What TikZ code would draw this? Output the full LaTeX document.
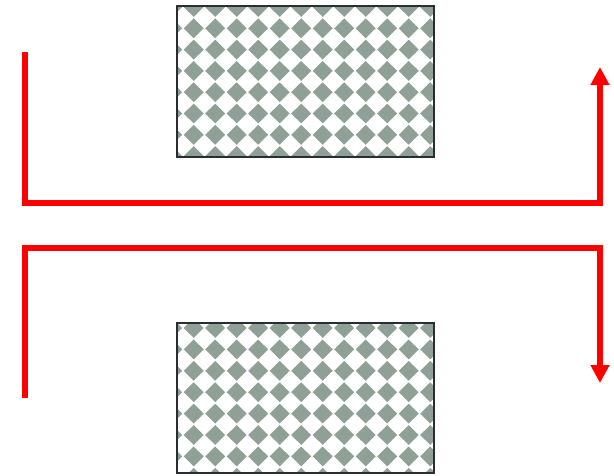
\documentclass[tikz,border=0pt]{standalone}
\usepackage{tikz}
\usepackage{xcolor}
\usetikzlibrary{arrows.meta, calc}
\definecolor{tileGray}{RGB}{143,161,151}
\definecolor{frameDark}{RGB}{42,46,52}
\definecolor{flowRed}{RGB}{255,0,0}

\begin{document}
\begin{tikzpicture}[x=1pt, y=-1pt,
  flow/.style={draw=flowRed, line width=5.5pt, line join=miter, -{Triangle[length=18pt, width=18pt]}},
  frame/.style={draw=frameDark, line width=1.8pt}]
\useasboundingbox (0,0) rectangle (614,475);
% --- Upper block ---
\coordinate (upA) at (177,6);
\coordinate (upB) at (434,157);
\begin{scope}
\clip (upA) rectangle (upB);
\foreach \i in {-1,...,12} {
  \foreach \j in {-1,...,7} {
    \fill[tileGray] ($(193.7,28.3)+(21.5*\i,21.3*\j)$) +(-10,0) -- +(0,-9.9) -- +(10,0) -- +(0,9.9) -- cycle;
  }
}
\end{scope}
\draw[frame] (upA) rectangle (upB);
% --- Lower block ---
\coordinate (loA) at (177,323);
\coordinate (loB) at (434,473);
\begin{scope}
\clip (loA) rectangle (loB);
\foreach \i in {-1,...,12} {
  \foreach \j in {-1,...,7} {
    \fill[tileGray] ($(193.7,328)+(21.5*\i,21.4*\j)$) +(-10,0) -- +(0,-9.9) -- +(10,0) -- +(0,9.9) -- cycle;
  }
}
\end{scope}
\draw[frame] (loA) rectangle (loB);
% --- Red paths ---
\coordinate (upStart) at (25,52);
\coordinate (upTurn) at (600,203);
\coordinate (upEnd) at (600,67);
\draw[flow] (upStart) |- (upTurn) -- (upEnd);
\coordinate (loStart) at (25,398);
\coordinate (loTurn) at (600,248);
\coordinate (loEnd) at (600,383);
\draw[flow] (loStart) |- (loTurn) -- (loEnd);
\end{tikzpicture}
\end{document}
